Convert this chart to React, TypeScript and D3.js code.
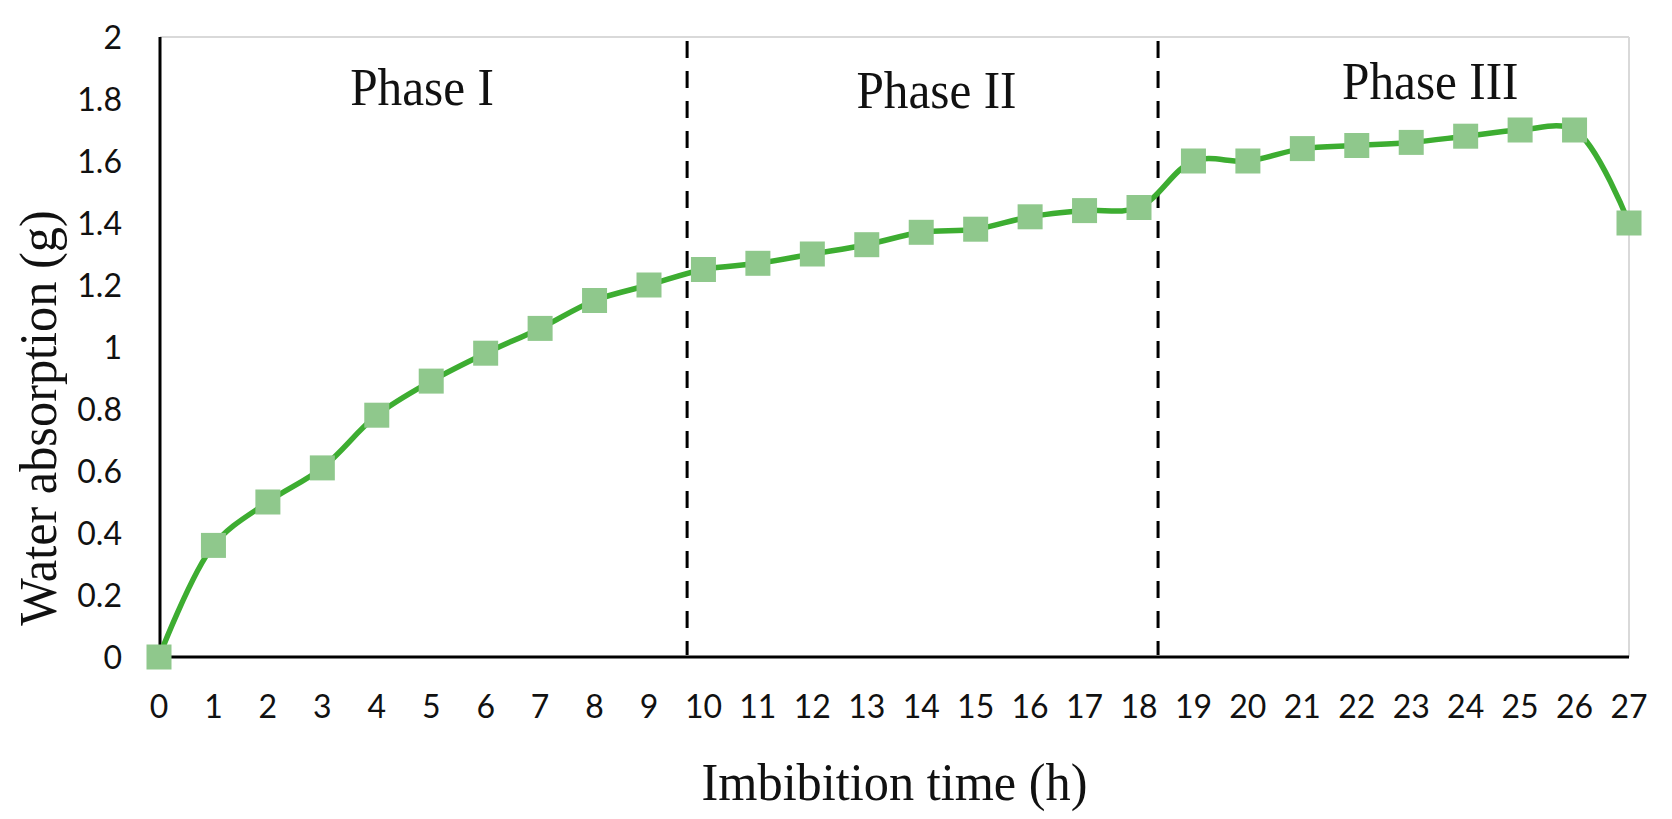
import * as d3 from "d3";

// Imbibition hours and water absorption readings (g)
const hours = [0, 1, 2, 3, 4, 5, 6, 7, 8, 9, 10, 11, 12, 13, 14, 15, 16, 17, 18, 19, 20, 21, 22, 23, 24, 25, 26, 27];
const absorption = [
    0, 0.36, 0.5, 0.61, 0.78, 0.89, 0.98, 1.06, 1.15, 1.2, 1.25, 1.27, 1.3, 1.33, 1.37, 1.38, 1.42, 1.44, 1.45,
    1.6, 1.6, 1.64, 1.65, 1.66, 1.68, 1.7, 1.7, 1.4,
];
const yTicks = [0, 0.2, 0.4, 0.6, 0.8, 1, 1.2, 1.4, 1.6, 1.8, 2];
const phaseBounds = [9.7, 18.35];
const phaseNames = ["Phase I", "Phase II", "Phase III"];
const phaseCenters = [4.83, 14.28, 23.35];

const W = 1672;
const H = 819;
const margin = { top: 37, right: 43, bottom: 162, left: 159 };

export default function App() {
    const x = d3.scaleLinear().domain([0, 27]).range([margin.left, W - margin.right]);
    const y = d3.scaleLinear().domain([0, 2]).range([H - margin.bottom, margin.top]);

    const line = d3
        .line<number>()
        .x((_, i) => x(hours[i]))
        .y((d) => y(d))
        .curve(d3.curveCatmullRom.alpha(0.5));

    const x0 = x(0) + 1;
    const x1 = x(27);
    const yTop = y(2);
    const yBot = y(0);
    const tickFont = "Lato, 'Open Sans', sans-serif";
    const serif = "'Liberation Serif', 'Times New Roman', serif";
    const markerSize = 25;
    const phaseBaselines = [105, 108, 99];

    return (
        <svg width={W} height={H} style={{ position: "absolute", left: 0, top: 0, background: "#fff" }}>
            {/* frame: light top/right, black axes */}
            <line x1={x0} x2={x1} y1={yTop} y2={yTop} stroke="#d9d9d9" strokeWidth={2} />
            <line x1={x1} x2={x1} y1={yTop} y2={yBot} stroke="#d9d9d9" strokeWidth={2} />
            <line x1={x0} x2={x0} y1={yTop} y2={yBot} stroke="#000" strokeWidth={3} />
            <line x1={x0} x2={x1} y1={yBot} y2={yBot} stroke="#000" strokeWidth={3} />

            {/* phase boundaries */}
            {phaseBounds.map((b) => (
                <line key={b} x1={x(b)} x2={x(b)} y1={yTop + 4} y2={yBot - 2} stroke="#000" strokeWidth={3} strokeDasharray="17,13" />
            ))}
            {phaseNames.map((p, i) => (
                <text
                    key={p}
                    transform={`translate(${x(phaseCenters[i])},${phaseBaselines[i]}) scale(0.93,1)`}
                    textAnchor="middle"
                    fontFamily={serif}
                    fontSize={53}
                    fill="#111"
                >
                    {p}
                </text>
            ))}

            {/* y ticks */}
            {yTicks.map((t) => (
                <text key={t} x={122} y={y(t)} dy="0.36em" textAnchor="end" fontFamily={tickFont} fontSize={32} fill="#111">
                    {d3.format("~g")(t)}
                </text>
            ))}
            {/* x ticks */}
            {hours.map((h) => (
                <text key={h} x={x(h)} y={718} textAnchor="middle" fontFamily={tickFont} fontSize={32} fill="#111">
                    {h}
                </text>
            ))}

            {/* series */}
            <path d={line(absorption) || ""} fill="none" stroke="#3dad31" strokeWidth={5.5} />
            {absorption.map((v, i) => (
                <rect
                    key={i}
                    x={x(hours[i]) - markerSize / 2}
                    y={y(v) - markerSize / 2}
                    width={markerSize}
                    height={markerSize}
                    fill="#8fc88c"
                />
            ))}

            {/* axis titles */}
            <text
                transform={`translate(${(x0 + x1) / 2},800) scale(0.95,1)`}
                textAnchor="middle"
                fontFamily={serif}
                fontSize={53}
                fill="#111"
            >
                Imbibition time (h)
            </text>
            <text
                transform={`translate(56,418) rotate(-90) scale(0.95,1)`}
                textAnchor="middle"
                fontFamily={serif}
                fontSize={53}
                fill="#111"
            >
                Water absorption (g)
            </text>
        </svg>
    );
}
